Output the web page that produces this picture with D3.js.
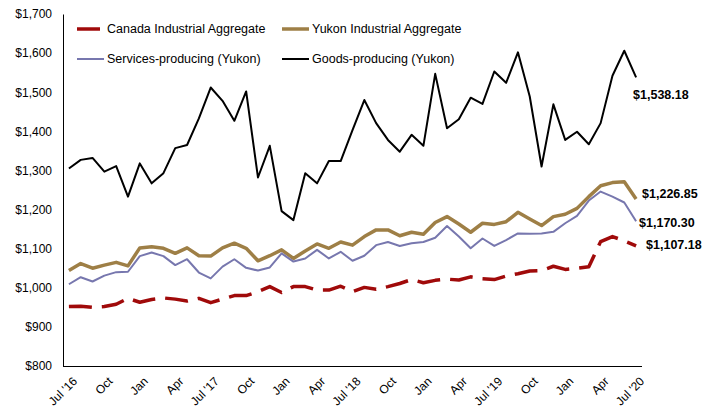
<!DOCTYPE html>
<html>
<head>
<meta charset="utf-8">
<script src="https://cdn.jsdelivr.net/npm/d3@7"></script>
<style>
  body { margin: 0; background: #fff; }
  svg { font-family: "Liberation Sans", Arial, sans-serif; }
</style>
</head>
<body>
<svg width="705" height="410"></svg>
<script>
// monthly, Jul 2016 .. Jul 2020 (49 months)
let tickLabels = ["Jul '16","Oct","Jan","Apr","Jul '17","Oct","Jan","Apr","Jul '18",
                  "Oct","Jan","Apr","Jul '19","Oct","Jan","Apr","Jul '20"];
let canada = [952,953,950,952,958,973,963,970,974,971,966,973,962,971,980,980,990,1003,988,1003,
              1003,994,994,1004,990,1001,996,1003,1011,1021,1013,1019,1022,1020,1028,1023,1021,1030,1036,1043,
              1044,1055,1047,1050,1054,1118,1131,1120,1107.18];
let yukon = [1044,1062,1050,1058,1065,1056,1102,1105,1101,1088,1102,1082,1081,1102,1114,1101,1069,1082,1097,1075,
             1094,1112,1101,1117,1109,1131,1148,1148,1133,1142,1137,1167,1182,1163,1142,1165,1162,1169,1193,1176,
             1159,1182,1188,1203,1233,1261,1269,1271,1226.85];
let services = [1009,1027,1016,1031,1040,1041,1081,1090,1081,1058,1073,1039,1024,1054,1073,1051,1044,1052,1088,1067,
                1075,1097,1075,1092,1069,1082,1109,1117,1107,1114,1117,1128,1158,1131,1101,1126,1107,1122,1139,1138,
                1139,1143,1165,1184,1223,1246,1233,1218,1170.30];
let goods = [1305,1327,1332,1297,1311,1233,1318,1267,1293,1357,1365,1433,1512,1478,1427,1502,1282,1363,1196,1173,
             1293,1267,1324,1324,1403,1480,1421,1378,1348,1391,1363,1547,1408,1431,1486,1470,1553,1524,1602,1489,
             1310,1469,1378,1399,1367,1421,1542,1606,1538.18];
let yTicks = [800,900,1000,1100,1200,1300,1400,1500,1600,1700];

let series = [
  {name: "Canada Industrial Aggregate", values: canada,   color: "#A00A0A", width: 3.5, dash: "23,10"},
  {name: "Yukon Industrial Aggregate",  values: yukon,    color: "#9E7F46", width: 3.5, dash: null},
  {name: "Services-producing (Yukon)",  values: services, color: "#7777AE", width: 2,   dash: null},
  {name: "Goods-producing (Yukon)",     values: goods,    color: "#000000", width: 2,   dash: null}
];

let svg = d3.select("svg");
let margin = {left: 63, right: 63, top: 14, bottom: 44};
let W = 705, H = 410;

let idx = d3.range(goods.length);
let x = d3.scalePoint().domain(idx).range([margin.left, W - margin.right]).padding(0.5);
let y = d3.scaleLinear().domain([800, 1700]).range([H - margin.bottom, margin.top]);

// y axis
let yAxis = svg.append("g")
  .attr("transform", "translate(" + margin.left + ",0)")
  .call(d3.axisLeft(y).tickValues(yTicks).tickSize(0).tickSizeOuter(0).tickPadding(11).tickFormat(d3.format("$,")));
yAxis.select(".domain").attr("stroke", "#000");
yAxis.selectAll("text").attr("font-size", "12px").attr("fill", "#000").attr("font-family", null);

// x axis
let xAxis = svg.append("g")
  .attr("transform", "translate(0," + (H - margin.bottom) + ")")
  .call(d3.axisBottom(x).tickValues(idx.filter(i => i % 3 == 0)).tickSize(0).tickSizeOuter(0).tickFormat(""));
xAxis.select(".domain").attr("d", "M" + margin.left + ",0.5H" + (W - margin.right)).attr("stroke", "#000");

svg.append("g").selectAll("text")
  .data(tickLabels)
  .enter().append("text")
  .attr("transform", (d, i) => "translate(" + (x(i * 3) + 6) + "," + (H - margin.bottom + 13) + ") rotate(-45)")
  .attr("text-anchor", "end")
  .attr("dy", "0.35em")
  .attr("font-size", "12px")
  .text(d => d);

// lines
let line = d3.line().x((d, i) => x(i)).y(d => y(d));
svg.append("g").selectAll("path")
  .data(series)
  .enter().append("path")
  .attr("fill", "none")
  .attr("stroke", d => d.color)
  .attr("stroke-width", d => d.width)
  .attr("stroke-dasharray", d => d.dash)
  .attr("stroke-linejoin", "round")
  .attr("d", d => line(d.values));

// end labels
let labelPos = [
  {s: 0, dx: 10, dy: -1},
  {s: 1, dx: 6,  dy: -5},
  {s: 2, dx: 3,  dy: 1},
  {s: 3, dx: -3, dy: 17}
];
labelPos.forEach(function(p) {
  let v = series[p.s].values;
  let last = v.length - 1;
  svg.append("text")
    .attr("x", x(last) + p.dx)
    .attr("y", y(v[last]) + p.dy)
    .attr("dy", "0.35em")
    .attr("font-size", "12.5px")
    .attr("font-weight", "bold")
    .text(d3.format("$,.2f")(v[last]));
});

// legend
let legend = svg.append("g").selectAll("g")
  .data(series)
  .enter().append("g")
  .attr("transform", (d, i) => "translate(" + (i % 2 == 0 ? 77 : 282) + "," + (i < 2 ? 29 : 59) + ")");
legend.append("line")
  .attr("x1", 0).attr("x2", d => d.dash ? 23 : 27)
  .attr("stroke", d => d.color)
  .attr("stroke-width", d => d.width);
legend.append("text")
  .attr("x", 30)
  .attr("dy", "0.35em")
  .attr("font-size", "12.5px")
  .text(d => d.name);
</script>
</body>
</html>
